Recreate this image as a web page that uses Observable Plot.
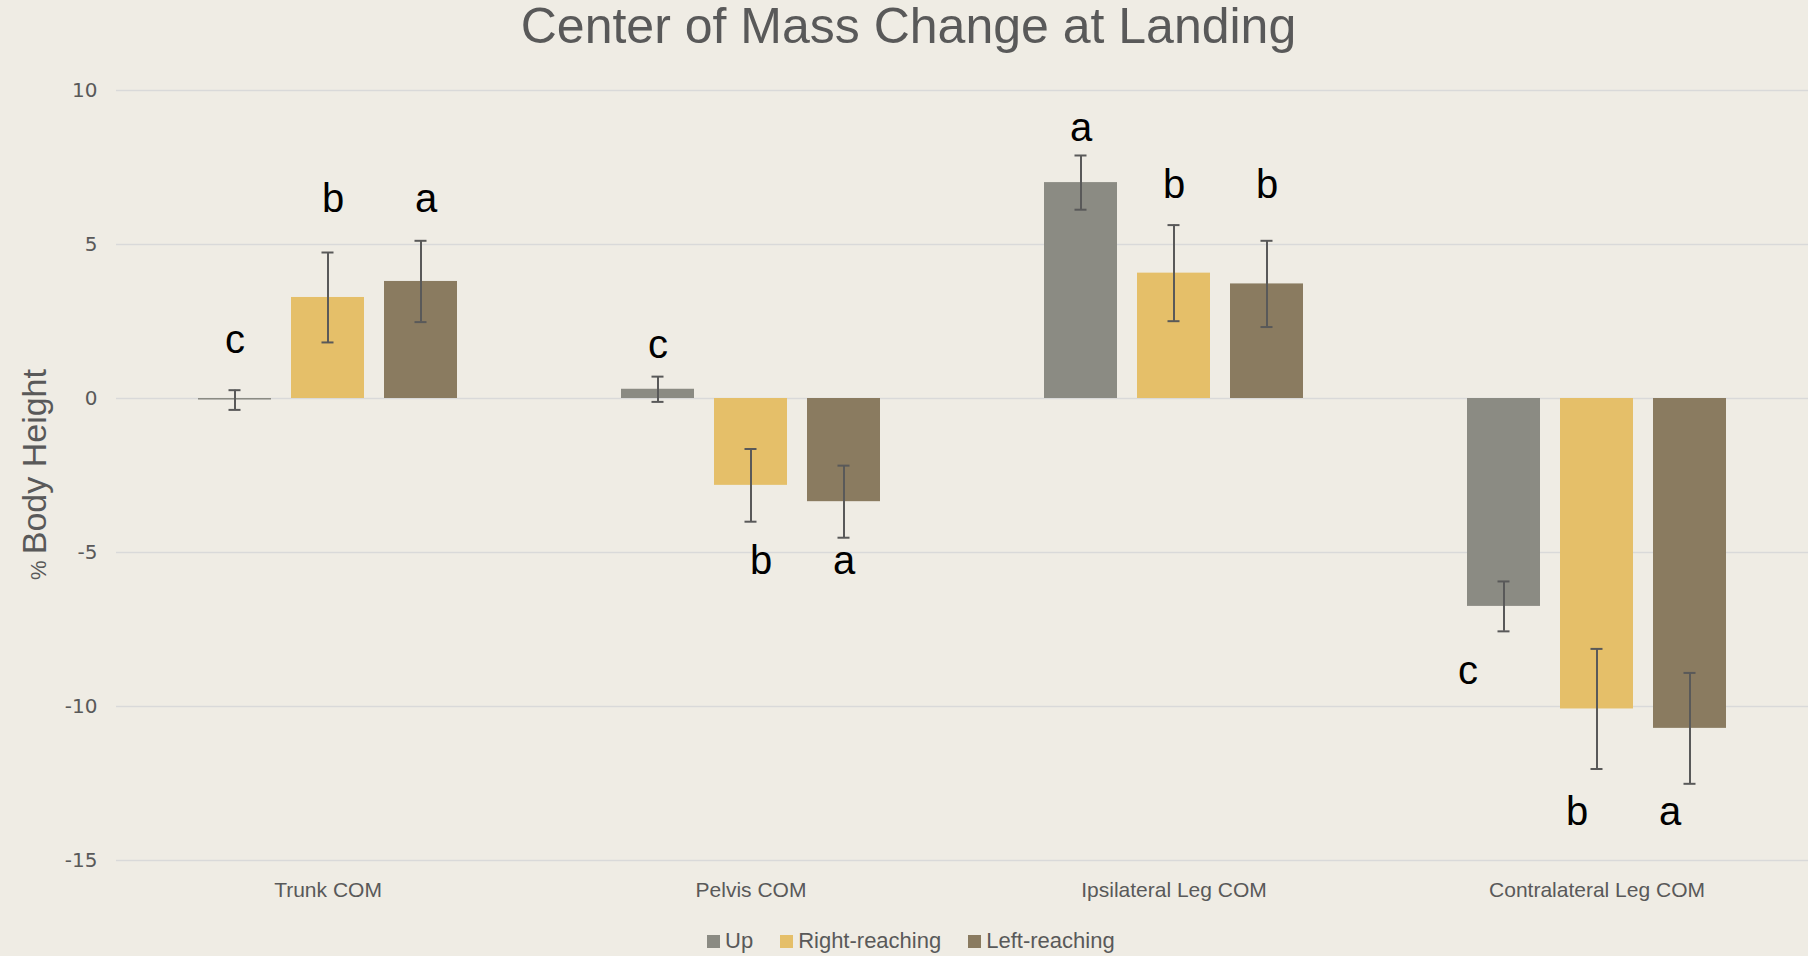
<!DOCTYPE html>
<html><head><meta charset="utf-8">
<script src="https://cdn.jsdelivr.net/npm/d3@7"></script>
<script src="https://cdn.jsdelivr.net/npm/@observablehq/plot@0.6"></script>
<style>
html,body{margin:0;padding:0;background:#EFECE4;width:1808px;height:956px;overflow:hidden;position:relative;font-family:"Liberation Sans",Arial,sans-serif;}
#title{position:absolute;left:0;top:1px;width:1817px;text-align:center;font-family:"Liberation Sans",Arial,sans-serif;font-size:50px;line-height:50px;color:#595959;white-space:nowrap;}
#chart{position:absolute;left:0;top:55px;}
#chart g[aria-label="y-axis tick label"] text{font-family:"DejaVu Sans",sans-serif;font-size:20px;}
#legend{position:absolute;left:707px;top:928px;height:26px;display:flex;align-items:center;font-size:22px;line-height:26px;color:#595959;white-space:nowrap;}
#legend .sw{width:13px;height:13px;margin-right:5px;}
#legend .lab{margin-right:27px;}
</style></head>
<body>
<div id="title">Center of Mass Change at Landing</div>
<div id="chart"></div>
<div id="legend"></div>
<script>
const categories = ["Trunk COM", "Pelvis COM", "Ipsilateral Leg COM", "Contralateral Leg COM"];
const series = ["Up", "Right-reaching", "Left-reaching"];
const colors = ["#8B8B83", "#E5BF69", "#8A7B60"];
const upMean = [-0.05, 0.30, 7.01, -6.75];
const upErr = [0.32, 0.41, 0.88, 0.81];
const rightMean = [3.28, -2.82, 4.07, -10.08];
const rightErr = [1.46, 1.18, 1.56, 1.95];
const leftMean = [3.80, -3.35, 3.72, -10.71];
const leftErr = [1.32, 1.17, 1.40, 1.80];
const upLetter = ["c", "c", "a", "c"];
const rightLetter = ["b", "b", "b", "b"];
const leftLetter = ["a", "a", "b", "a"];
const upLetterY = [1.49, 1.33, 8.35, -9.27];
const rightLetterY = [6.06, -5.70, 6.51, -13.85];
const leftLetterY = [6.06, -5.70, 6.51, -13.85];
const yTicks = [-15, -10, -5, 0, 5, 10];

const means = [upMean, rightMean, leftMean];
const errs = [upErr, rightErr, leftErr];
const letters = [upLetter, rightLetter, leftLetter];
const letterYs = [upLetterY, rightLetterY, leftLetterY];
const rows = [];
categories.forEach((c, i) => series.forEach((s, j) => rows.push({
  category: c, series: s, mean: means[j][i], err: errs[j][i],
  letter: letters[j][i], letterY: letterYs[j][i]
})));

// letter annotations: groups of labels drawn with small horizontal nudges
const isContraUp = d => d.category === categories[3] && d.series === series[0];
const isContraOther = d => d.category === categories[3] && d.series !== series[0];
const isPelvisRight = d => d.category === categories[1] && d.series === series[1];
const isTrunkUpper = d => d.category === categories[0] && d.series !== series[0];
const isRest = d => !isContraUp(d) && !isContraOther(d) && !isPelvisRight(d) && !isTrunkUpper(d);
const letterMark = (filter, dx) => Plot.text(rows.filter(filter), {
  fx: "category", x: "series", y: "letterY", text: "letter",
  lineAnchor: "bottom", fontSize: 40, fill: "black", dx
});

const plot = Plot.plot({
  width: 1808, height: 860,
  marginLeft: 116, marginRight: 0, marginTop: 35, marginBottom: 55,
  style: {background: "transparent", fontFamily: "'Liberation Sans', Arial, sans-serif", fontSize: "21px", color: "#595959"},
  fx: {domain: categories, padding: 0, label: null, axis: "bottom", tickSize: 0, tickPadding: 22},
  x: {domain: series, paddingInner: 0.216, paddingOuter: 0.865, axis: null},
  y: {domain: [-15, 10], ticks: yTicks, label: null, tickSize: 0, tickPadding: 19, tickFormat: d => String(d)},
  color: {domain: series, range: colors},
  marks: [
    Plot.ruleY(yTicks, {stroke: "#D9D9D9", strokeWidth: 1.5}),
    Plot.barY(rows, {fx: "category", x: "series", y: "mean", fill: "series"}),
    Plot.ruleX(rows, {fx: "category", x: "series", y1: d => d.mean - d.err, y2: d => d.mean + d.err, stroke: "#595959", strokeWidth: 2}),
    Plot.tickY(rows, {fx: "category", x: "series", y: d => d.mean - d.err, stroke: "#595959", strokeWidth: 2, insetLeft: 30.5, insetRight: 30.5}),
    Plot.tickY(rows, {fx: "category", x: "series", y: d => d.mean + d.err, stroke: "#595959", strokeWidth: 2, insetLeft: 30.5, insetRight: 30.5}),
    letterMark(isRest, 0),
    letterMark(isTrunkUpper, 5),
    letterMark(isPelvisRight, 10),
    letterMark(isContraOther, -20),
    letterMark(isContraUp, -36)
  ]
});
document.getElementById("chart").appendChild(plot);

// y-axis title
const svg = d3.select(plot);
const yl = svg.append("text")
  .attr("transform", "translate(46,419.5) rotate(-90)")
  .attr("text-anchor", "middle")
  .attr("fill", "#595959")
  .attr("font-family", "'Liberation Sans', Arial, sans-serif");
yl.append("tspan").attr("font-size", 22).text("% ");
yl.append("tspan").attr("font-size", 34).text("Body Height");

// legend
const leg = d3.select("#legend");
series.forEach((s, j) => {
  leg.append("div").attr("class", "sw").style("background", colors[j]);
  leg.append("div").attr("class", "lab").text(s);
});
</script>
</body></html>
